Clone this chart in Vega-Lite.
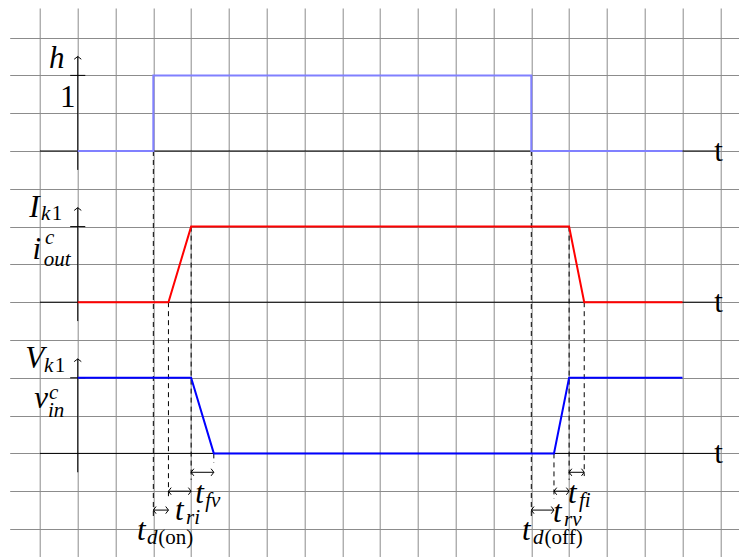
{
  "$schema": "https://vega.github.io/schema/vega-lite/v6.json",
  "width": 729.3,
  "height": 549,
  "autosize": {"type": "none"},
  "padding": {"left": 9.7, "top": 8, "right": 0, "bottom": 0},
  "background": "white",
  "view": {"stroke": null},
  "config": {"axis": {"gridColor": "#8c8c8c", "gridWidth": 1, "gridOpacity": 1}},
  "datasets": {
    "waves": [
      {"s": "h", "k": 0, "x": 0, "y": 0}, {"s": "h", "k": 1, "x": 2, "y": 0}, {"s": "h", "k": 2, "x": 2, "y": 2}, {"s": "h", "k": 3, "x": 12, "y": 2}, {"s": "h", "k": 4, "x": 12, "y": 0}, {"s": "h", "k": 5, "x": 16, "y": 0},
      {"s": "i", "k": 0, "x": 0, "y": -4}, {"s": "i", "k": 1, "x": 2.4, "y": -4}, {"s": "i", "k": 2, "x": 3, "y": -2}, {"s": "i", "k": 3, "x": 13, "y": -2}, {"s": "i", "k": 4, "x": 13.4, "y": -4}, {"s": "i", "k": 5, "x": 16, "y": -4},
      {"s": "v", "k": 0, "x": 0, "y": -6}, {"s": "v", "k": 1, "x": 3, "y": -6}, {"s": "v", "k": 2, "x": 3.6, "y": -8}, {"s": "v", "k": 3, "x": 12.6, "y": -8}, {"s": "v", "k": 4, "x": 13, "y": -6}, {"s": "v", "k": 5, "x": 16, "y": -6}
    ],
    "haxes": [
      {"x": -1, "x2": 16.9, "y": 0}, {"x": -1, "x2": 16.9, "y": -4}, {"x": -1, "x2": 16.9, "y": -8}
    ],
    "vaxes": [
      {"x": 0, "y": -0.5, "y2": 2.5}, {"x": 0, "y": -4.5, "y2": -1.5}, {"x": 0, "y": -8.5, "y2": -5.5}
    ],
    "ticks": [
      {"x": -0.2, "x2": 0.2, "y": 2}, {"x": -0.2, "x2": 0.2, "y": -2}, {"x": -0.2, "x2": 0.2, "y": -6}
    ],
    "dashes": [
      {"x": 2, "y": 0, "y2": -9.7}, {"x": 2.4, "y": -4, "y2": -9.2}, {"x": 3, "y": -2, "y2": -8.7}, {"x": 3.6, "y": -8, "y2": -8.25},
      {"x": 12, "y": 0, "y2": -9.7}, {"x": 12.6, "y": -8, "y2": -9.2}, {"x": 13, "y": -2, "y2": -8.7}, {"x": 13.4, "y": -4, "y2": -8.6}
    ],
    "arrows": [
      {"x": 2, "x2": 2.4, "y": -9.5}, {"x": 2.4, "x2": 3, "y": -9}, {"x": 3, "x2": 3.6, "y": -8.5},
      {"x": 12, "x2": 12.6, "y": -9.5}, {"x": 12.6, "x2": 13, "y": -9}, {"x": 13, "x2": 13.4, "y": -8.5}
    ],
    "labels": [
      {"t": "h", "kind": "main", "st": "it", "x": -0.76, "y": 2.196},
      {"t": "1", "kind": "main", "st": "rm", "x": -0.47, "y": 1.164},
      {"t": "I", "kind": "main", "st": "it", "x": -1.28, "y": -1.738},
      {"t": "k", "kind": "sub", "st": "it", "x": -0.971, "y": -1.825},
      {"t": "1", "kind": "sub", "st": "rm", "x": -0.69, "y": -1.825},
      {"t": "i", "kind": "main", "st": "it", "x": -1.2, "y": -2.857},
      {"t": "c", "kind": "sub", "st": "it", "x": -0.865, "y": -2.46},
      {"t": "out", "kind": "sub", "st": "it", "x": -0.9, "y": -3.042},
      {"t": "V", "kind": "main", "st": "it", "x": -1.39, "y": -5.741},
      {"t": "k", "kind": "sub", "st": "it", "x": -0.891, "y": -5.847},
      {"t": "1", "kind": "sub", "st": "rm", "x": -0.61, "y": -5.847},
      {"t": "v", "kind": "main", "st": "it", "x": -1.15, "y": -6.8},
      {"t": "c", "kind": "sub", "st": "it", "x": -0.759, "y": -6.56},
      {"t": "in", "kind": "sub", "st": "it", "x": -0.786, "y": -7.037},
      {"t": "t", "kind": "main", "st": "it", "x": 1.571, "y": -10.29},
      {"t": "d", "kind": "sub", "st": "it", "x": 1.833, "y": -10.4},
      {"t": "(on)", "kind": "sub", "st": "rm", "x": 2.13, "y": -10.4},
      {"t": "t", "kind": "main", "st": "it", "x": 2.574, "y": -9.762},
      {"t": "ri", "kind": "sub", "st": "it", "x": 2.865, "y": -9.868},
      {"t": "t", "kind": "main", "st": "it", "x": 3.108, "y": -9.312},
      {"t": "fv", "kind": "sub", "st": "it", "x": 3.373, "y": -9.418},
      {"t": "t", "kind": "main", "st": "it", "x": 11.757, "y": -10.29},
      {"t": "d", "kind": "sub", "st": "it", "x": 12.048, "y": -10.4},
      {"t": "(off)", "kind": "sub", "st": "rm", "x": 12.35, "y": -10.4},
      {"t": "t", "kind": "main", "st": "it", "x": 12.574, "y": -9.815},
      {"t": "rv", "kind": "sub", "st": "it", "x": 12.865, "y": -9.921},
      {"t": "t", "kind": "main", "st": "it", "x": 12.971, "y": -9.312},
      {"t": "fi", "kind": "sub", "st": "it", "x": 13.262, "y": -9.418},
      {"t": "t", "kind": "main", "st": "rm", "x": 16.84, "y": -0.265},
      {"t": "t", "kind": "main", "st": "rm", "x": 16.84, "y": -4.265},
      {"t": "t", "kind": "main", "st": "rm", "x": 16.84, "y": -8.265}
    ]
  },
  "layer": [
    {
      "data": {"name": "haxes"},
      "mark": {"type": "rule", "color": "black", "strokeWidth": 1},
      "encoding": {
        "x": {"field": "x", "type": "quantitative", "scale": {"domain": [-1.8, 17.495], "nice": false, "zero": false},
              "axis": {"values": [-1,0,1,2,3,4,5,6,7,8,9,10,11,12,13,14,15,16,17], "grid": true, "labels": false, "ticks": false, "domain": false, "title": null}},
        "x2": {"field": "x2"},
        "y": {"field": "y", "type": "quantitative", "scale": {"domain": [-10.741, 3.783], "nice": false, "zero": false},
              "axis": {"values": [-10,-9,-8,-7,-6,-5,-4,-3,-2,-1,0,1,2,3], "grid": true, "labels": false, "ticks": false, "domain": false, "title": null}}
      }
    },
    {
      "data": {"name": "vaxes"},
      "mark": {"type": "rule", "color": "black", "strokeWidth": 1},
      "encoding": {
        "x": {"field": "x", "type": "quantitative"},
        "y": {"field": "y", "type": "quantitative"},
        "y2": {"field": "y2"}
      }
    },
    {
      "data": {"name": "vaxes"},
      "mark": {"type": "point", "shape": "M -1.3 1 L 0 0 L 1.3 1", "filled": false, "stroke": "black", "strokeWidth": 1, "opacity": 1, "size": 30},
      "encoding": {
        "x": {"field": "x", "type": "quantitative"},
        "y": {"field": "y2", "type": "quantitative"}
      }
    },
    {
      "data": {"name": "ticks"},
      "mark": {"type": "rule", "color": "black", "strokeWidth": 1},
      "encoding": {
        "x": {"field": "x", "type": "quantitative"},
        "x2": {"field": "x2"},
        "y": {"field": "y", "type": "quantitative"}
      }
    },
    {
      "data": {"name": "dashes"},
      "mark": {"type": "rule", "color": "black", "strokeWidth": 1, "strokeDash": [5, 4]},
      "encoding": {
        "x": {"field": "x", "type": "quantitative"},
        "y": {"field": "y", "type": "quantitative"},
        "y2": {"field": "y2"}
      }
    },
    {
      "data": {"name": "waves"},
      "mark": {"type": "line", "strokeWidth": 2, "interpolate": "linear"},
      "encoding": {
        "x": {"field": "x", "type": "quantitative"},
        "y": {"field": "y", "type": "quantitative"},
        "order": {"field": "k", "type": "quantitative"},
        "color": {"field": "s", "type": "nominal", "scale": {"domain": ["h", "i", "v"], "range": ["#8080ff", "#ff0000", "#0000ff"]}, "legend": null}
      }
    },
    {
      "data": {"name": "arrows"},
      "mark": {"type": "rule", "color": "black", "strokeWidth": 1},
      "encoding": {
        "x": {"field": "x", "type": "quantitative"},
        "x2": {"field": "x2"},
        "y": {"field": "y", "type": "quantitative"}
      }
    },
    {
      "data": {"name": "arrows"},
      "mark": {"type": "point", "shape": "M 1 -1.3 L 0 0 L 1 1.3", "filled": false, "stroke": "black", "strokeWidth": 1, "opacity": 1, "size": 30},
      "encoding": {
        "x": {"field": "x", "type": "quantitative"},
        "y": {"field": "y", "type": "quantitative"}
      }
    },
    {
      "data": {"name": "arrows"},
      "mark": {"type": "point", "shape": "M -1 -1.3 L 0 0 L -1 1.3", "filled": false, "stroke": "black", "strokeWidth": 1, "opacity": 1, "size": 30},
      "encoding": {
        "x": {"field": "x2", "type": "quantitative"},
        "y": {"field": "y", "type": "quantitative"}
      }
    },
    {
      "data": {"name": "labels"},
      "transform": [{"filter": "datum.st == 'it'"}],
      "mark": {"type": "text", "font": "Liberation Serif", "fontStyle": "italic", "align": "left", "baseline": "alphabetic", "color": "black"},
      "encoding": {
        "x": {"field": "x", "type": "quantitative"},
        "y": {"field": "y", "type": "quantitative"},
        "text": {"field": "t"},
        "size": {"field": "kind", "type": "nominal", "scale": {"domain": ["main", "sub"], "range": [31, 21]}, "legend": null}
      }
    },
    {
      "data": {"name": "labels"},
      "transform": [{"filter": "datum.st == 'rm'"}],
      "mark": {"type": "text", "font": "Liberation Serif", "align": "left", "baseline": "alphabetic", "color": "black"},
      "encoding": {
        "x": {"field": "x", "type": "quantitative"},
        "y": {"field": "y", "type": "quantitative"},
        "text": {"field": "t"},
        "size": {"field": "kind", "type": "nominal", "scale": {"domain": ["main", "sub"], "range": [31, 21]}, "legend": null}
      }
    }
  ]
}
